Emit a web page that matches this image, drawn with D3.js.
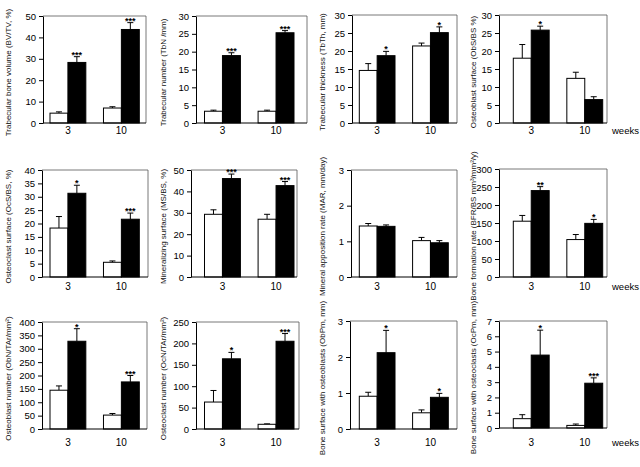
<!DOCTYPE html>
<html><head><meta charset="utf-8">
<script src="https://cdn.jsdelivr.net/npm/d3@7"></script>
<style>body{margin:0;background:#fff}svg{display:block}text{font-family:"Liberation Sans",Arial,sans-serif}</style>
</head><body><svg id="c" width="640" height="467"></svg>
<script>
// ---------- data ----------
const categories = ["3", "10"];
const groups = ["control", "treated"];
const titles = [
  "Trabecular bone volume (BV/TV, %)",
  "Trabecular number (TbN /mm)",
  "Trabecular thickness (TbTh, mm)",
  "Osteoblast surface (ObS/BS %)",
  "Osteoclast surface (OcS/BS, %)",
  "Mineralizing surface (MS/BS, %)",
  "Mineral apposition rate (MAR, mm/day)",
  "Bone formation rate (BFR/BS mm\u00b3/mm\u00b2/y)",
  "Osteoblast number (ObN/TAr/mm\u00b2)",
  "Osteoclast number (OcN/TAr/mm\u00b2)",
  "Bone surface with osteoblasts (ObPm, mm)",
  "Bone surface with osteoclasts (OcPm, mm)"
];
const yMax  = [50, 30, 30, 30, 40, 50, 3, 300, 400, 250, 3, 7];
const yStep = [10, 5, 5, 5, 5, 10, 1, 50, 50, 50, 1, 1];
const controlMean = [[4.6,7.0],[3.3,3.3],[14.6,21.4],[18.0,12.4],[18.3,5.5],[29.3,27.0],[1.43,1.02],[155,104],[145,52],[63,11],[0.91,0.45],[0.61,0.17]];
const controlSE   = [[0.6,0.6],[0.3,0.3],[1.9,0.8],[3.8,1.7],[4.3,0.5],[2.1,2.3],[0.07,0.09],[16,14],[16,6],[27,1],[0.11,0.08],[0.26,0.09]];
const treatedMean = [[28.3,43.7],[18.9,25.3],[18.7,25.1],[25.8,6.5],[31.3,21.6],[46.0,42.7],[1.42,0.96],[240,149],[328,176],[164,205],[2.12,0.88],[4.77,2.93]];
const treatedSE   = [[2.7,3.2],[0.8,0.6],[1.2,1.6],[1.1,0.8],[3.0,2.3],[2.1,1.9],[0.04,0.06],[11,11],[47,24],[15,18],[0.62,0.11],[1.63,0.35]];
const significance = [["***","***"],["***","***"],["*","*"],["*",""],["*","***"],["***","***"],["",""],["**","*"],["*","***"],["*","***"],["*","*"],["*","***"]];
const xUnit = "weeks";

// ---------- layout ----------
const boxes = [
  [43,146,16,123],[196,307,16,123],[352,457,15,123],[499,607,15,123],
  [42,148,170,277],[191,297,170,277],[351,457,170,277],[499,607,169,277],
  [42,147,322,429],[196,299,322,429],[350,457,321,429],[499,607,321,428]
];
const barRange = [[50,139.3],[204.5,294],[359.3,448.3],[513.3,602.7]];
const titleX = [8, 163, 322, 473];
const labelY = [134, 290, 446];

const svg = d3.select("#c");

titles.forEach((title, i) => {
  const col = i % 4, row = Math.floor(i / 4);
  const [x0, x1, y0, y1] = boxes[i];
  const g = svg.append("g");
  const y = d3.scaleLinear().domain([0, yMax[i]]).range([y1, y0]);
  const x = d3.scaleBand().domain(categories).range(barRange[col]).paddingInner(0.33).paddingOuter(0);
  const xs = d3.scaleBand().domain(groups).range([0, x.bandwidth()]);

  // frame (top/right)
  g.append("path").attr("d", `M${x0},${y0}H${x1}V${y1}`).attr("fill","none").attr("stroke","#555").attr("stroke-width",0.8);

  // bars
  const rows = [];
  categories.forEach((c, k) => {
    rows.push({c, grp:"control", v: controlMean[i][k], se: controlSE[i][k], sig:""});
    rows.push({c, grp:"treated", v: treatedMean[i][k], se: treatedSE[i][k], sig: significance[i][k]});
  });
  rows.forEach(d => {
    const bx = x(d.c) + xs(d.grp), bw = xs.bandwidth();
    const cx = bx + bw / 2;
    const top = y(d.v + d.se);
    g.append("line").attr("x1",cx).attr("x2",cx).attr("y1",y(d.v)).attr("y2",top).attr("stroke","#000").attr("stroke-width",1);
    g.append("line").attr("x1",cx-3).attr("x2",cx+3).attr("y1",top).attr("y2",top).attr("stroke","#000").attr("stroke-width",1);
    g.append("rect").attr("x", bx).attr("y", y(d.v)).attr("width", bw).attr("height", y(0) - y(d.v))
      .attr("fill", d.grp === "control" ? "#fff" : "#000").attr("stroke","#000").attr("stroke-width",1);
    if (d.sig) {
      g.append("text").attr("x", cx).attr("y", top + 1).attr("text-anchor","middle")
        .attr("font-size", 9).attr("font-weight","bold").text(d.sig);
    }
  });

  // y axis
  const ticks = d3.range(0, yMax[i] + yStep[i] / 2, yStep[i]);
  const ax = g.append("g").attr("transform", `translate(${x0},0)`)
    .call(d3.axisLeft(y).tickValues(ticks).tickSize(4).tickSizeOuter(0).tickPadding(3).tickFormat(d3.format("d")));
  ax.selectAll("text").attr("font-size", 9.5).attr("fill","#000");
  ax.select(".domain").attr("stroke","#000");
  g.append("line").attr("x1", x0).attr("x2", x1).attr("y1", y1).attr("y2", y1).attr("stroke","#000");

  // category labels
  categories.forEach(c => {
    g.append("text").attr("x", x(c) + x.bandwidth()/2).attr("y", labelY[row]).attr("text-anchor","middle")
      .attr("font-size", 10).text(c);
  });
  if (col === 3) {
    g.append("text").attr("x", 612).attr("y", labelY[row]).attr("font-size", 9.5).text(xUnit);
  }

  // y title
  g.append("text").attr("transform", `translate(${titleX[col]},${(y0+y1)/2 + 3}) rotate(-90)`)
    .attr("text-anchor","middle").attr("dy","0.35em").attr("font-size", 8).attr("fill","#111").text(title);
});
</script>
</body></html>
